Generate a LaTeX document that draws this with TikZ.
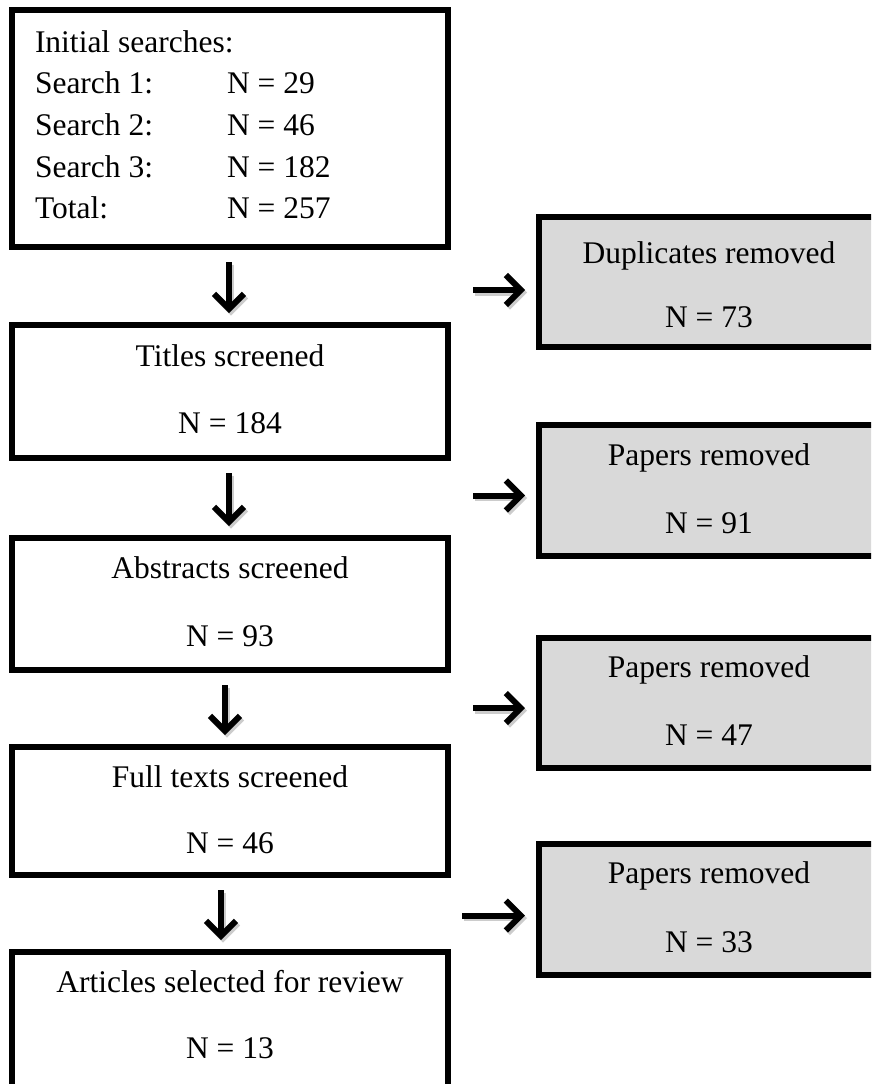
\documentclass[tikz,border=0pt]{standalone}
\usepackage{fontspec}
\setmainfont{Liberation Serif}
\usetikzlibrary{arrows.meta}
\definecolor{boxgray}{HTML}{D9D9D9}
\tikzset{
  stagebox/.style={draw=black, line width=6pt, fill=white, rectangle,
    inner sep=0pt, outer sep=0pt, minimum width=436pt, anchor=north west},
  removedbox/.style={draw=black, line width=6pt, fill=boxgray, rectangle,
    inner sep=0pt, outer sep=0pt, minimum width=340pt, anchor=north west},
  label/.style={inner sep=0pt, outer sep=0pt, anchor=base,
    font=\fontsize{31.5}{38}\selectfont},
  leftlabel/.style={label, anchor=base west},
  flow/.style={line width=6pt, -{Straight Barb[length=15pt, width=30pt, line width=6pt]}},
  shade/.style={flow, draw=black, opacity=0.2, transform canvas={shift={(2pt,-2.5pt)}}},
}
\begin{document}
\begin{tikzpicture}[x=1pt, y=1pt]
\useasboundingbox (0,0) rectangle (871,-1084);
\clip (0,0) rectangle (871,-1084);

% left column of stages
\node[stagebox, minimum height=237pt] (init)      at (12,-10)  {};
\node[stagebox, minimum height=133pt] (titles)    at (12,-325) {};
\node[stagebox, minimum height=132pt] (abstracts) at (12,-538) {};
\node[stagebox, minimum height=128pt] (fulltexts) at (12,-747) {};
\node[stagebox, minimum height=160pt] (articles)  at (12,-952) {};

% right column of removals
\node[removedbox, minimum height=130pt] (dup) at (539,-217) {};
\node[removedbox, minimum height=131pt] (rm1) at (539,-425) {};
\node[removedbox, minimum height=130pt] (rm2) at (539,-638) {};
\node[removedbox, minimum height=131pt] (rm3) at (539,-844) {};

% initial searches table
\node[leftlabel] (i0)  at ([xshift=23pt,yshift=-42pt]init.north west)  {Initial searches:};
\node[leftlabel] (i1a) at ([xshift=23pt,yshift=-83pt]init.north west)  {Search 1:};
\node[leftlabel] (i1b) at ([xshift=215pt,yshift=-83pt]init.north west) {N = 29};
\node[leftlabel] (i2a) at ([xshift=23pt,yshift=-125pt]init.north west) {Search 2:};
\node[leftlabel] (i2b) at ([xshift=215pt,yshift=-125pt]init.north west){N = 46};
\node[leftlabel] (i3a) at ([xshift=23pt,yshift=-167pt]init.north west) {Search 3:};
\node[leftlabel] (i3b) at ([xshift=215pt,yshift=-167pt]init.north west){N = 182};
\node[leftlabel] (i4a) at ([xshift=23pt,yshift=-208pt]init.north west) {Total:};
\node[leftlabel] (i4b) at ([xshift=215pt,yshift=-208pt]init.north west){N = 257};

% stage labels
\node[label] (t1) at ([yshift=-41pt]titles.north)     {Titles screened};
\node[label] (t2) at ([yshift=-108pt]titles.north)    {N = 184};
\node[label] (a1) at ([yshift=-40pt]abstracts.north)  {Abstracts screened};
\node[label] (a2) at ([yshift=-108pt]abstracts.north) {N = 93};
\node[label] (f1) at ([yshift=-40pt]fulltexts.north)  {Full texts screened};
\node[label] (f2) at ([yshift=-106pt]fulltexts.north) {N = 46};
\node[label] (s1) at ([yshift=-40pt]articles.north)   {Articles selected for review};
\node[label] (s2) at ([yshift=-106pt]articles.north)  {N = 13};

% removal labels
\node[label] (d1) at ([yshift=-46pt]dup.north)  {Duplicates removed};
\node[label] (d2) at ([yshift=-110pt]dup.north) {N = 73};
\node[label] (r11) at ([yshift=-40pt]rm1.north)  {Papers removed};
\node[label] (r12) at ([yshift=-108pt]rm1.north) {N = 91};
\node[label] (r21) at ([yshift=-39pt]rm2.north)  {Papers removed};
\node[label] (r22) at ([yshift=-107pt]rm2.north) {N = 47};
\node[label] (r31) at ([yshift=-39pt]rm3.north)  {Papers removed};
\node[label] (r32) at ([yshift=-108pt]rm3.north) {N = 33};

% downward arrows between stages
\foreach \a/\b/\dx in {init/titles/-1, titles/abstracts/-1, abstracts/fulltexts/-5, fulltexts/articles/-9} {
  \draw[shade] ([xshift=\dx pt,yshift=-15pt]\a.south) -- ([xshift=\dx pt,yshift=12pt]\b.north);
  \draw[flow]  ([xshift=\dx pt,yshift=-15pt]\a.south) -- ([xshift=\dx pt,yshift=12pt]\b.north);
}

% arrows pointing into the removal boxes
\foreach \r/\dy/\x in {dup/-8/66, rm1/-5/66, rm2/-5/66, rm3/-6/77} {
  \draw[shade] ([xshift=-\x pt,yshift=\dy pt]\r.west) -- ([xshift=-14pt,yshift=\dy pt]\r.west);
  \draw[flow]  ([xshift=-\x pt,yshift=\dy pt]\r.west) -- ([xshift=-14pt,yshift=\dy pt]\r.west);
}
\end{tikzpicture}
\end{document}
